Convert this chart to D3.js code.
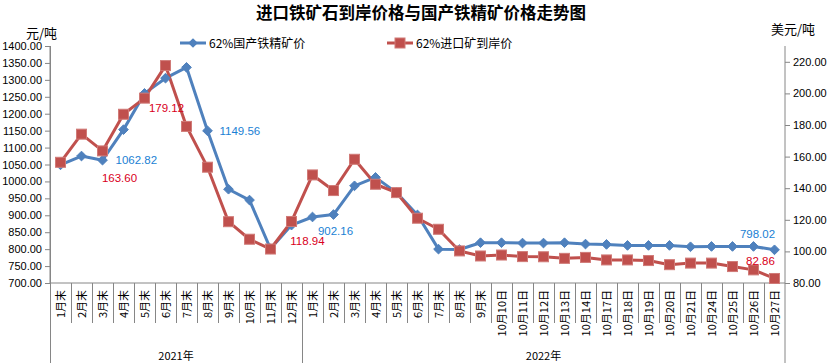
<!DOCTYPE html>
<meta charset="utf-8">
<head>
    <title>进口铁矿石到岸价格与国产铁精矿价格走势图</title>
    <script src="https://cdn.jsdelivr.net/npm/d3@7"></script>
    <style>
        body { margin: 0; background: #fff; }
        svg { display: block; }
        .tick-label { font-family: "Liberation Sans", Arial, sans-serif; font-size: 11px; fill: #000; }
        .cjk { font-family: "Noto Sans CJK SC", "Liberation Sans", sans-serif; }
    </style>
</head>
<body>
<div id="chart"></div>
<script>
    // categories, grouped by year
    var months2021 = ["1月末", "2月末", "3月末", "4月末", "5月末", "6月末", "7月末", "8月末", "9月末", "10月末", "11月末", "12月末"]
    var months2022 = ["1月末", "2月末", "3月末", "4月末", "5月末", "6月末", "7月末", "8月末", "9月末",
        "10月10日", "10月11日", "10月12日", "10月13日", "10月14日", "10月17日", "10月18日",
        "10月19日", "10月20日", "10月21日", "10月24日", "10月25日", "10月26日", "10月27日"]
    var years = ["2021年", "2022年"]

    // 62%国产铁精矿价 (元/吨, left axis)
    var domestic = [1049, 1075, 1062.82, 1153, 1260, 1305, 1337, 1149.56, 977, 945, 801, 871,
        895, 902.16, 987, 1012, 967, 901, 800, 799, 819,
        819, 818, 818, 819, 815, 814, 811, 811, 811, 807, 808, 808, 808, 798.02]

    // 62%进口矿到岸价 (美元/吨, right axis)
    var imported = [156.4, 174.2, 163.60, 186.8, 197, 217.6, 179.12, 153.3, 118.8, 107.7, 101.5, 118.94,
        148.4, 138.5, 158.3, 142.5, 137.2, 121, 114, 100.3, 97.1,
        97.7, 96.7, 96.6, 95.6, 96.2, 94.6, 94.6, 94.2, 91.6, 92.6, 92.6, 90.4, 88.3, 82.86]

    var leftTicks = d3.range(700, 1401, 50)
    var rightTicks = d3.range(80, 221, 20)

    // which points carry a value label, and where it sits relative to the point
    var domesticLabels = [{i: 2, dx: 13, dy: 4, anchor: "start"}, {i: 7, dx: 12, dy: 4, anchor: "start"},
        {i: 13, dx: 2, dy: 20, anchor: "middle"}, {i: 34, dx: -17, dy: -12, anchor: "middle"}]
    var importedLabels = [{i: 2, dx: 17, dy: 31, anchor: "middle"}, {i: 6, dx: -20, dy: -14, anchor: "middle"},
        {i: 11, dx: 16, dy: 24, anchor: "middle"}, {i: 34, dx: -14, dy: -13, anchor: "middle"}]

    var width = 837, height = 363
    var plot = {left: 50, right: 785, top: 46, bottom: 283}

    var categories = months2021.map(function (m) { return "2021|" + m })
        .concat(months2022.map(function (m) { return "2022|" + m }))

    var svg = d3.select("#chart").append("svg")
        .attr("width", width)
        .attr("height", height)

    var x = d3.scaleBand()
        .domain(categories)
        .range([plot.left, plot.right])

    var yLeft = d3.scaleLinear().domain([700, 1400]).range([plot.bottom, plot.top])
    var yRight = d3.scaleLinear().domain([80, 230]).range([plot.bottom, plot.top])

    var cx = function (i) { return x(categories[i]) + x.bandwidth() / 2 }

    // title
    svg.append("text")
        .attr("class", "cjk")
        .attr("x", 421)
        .attr("y", 19)
        .attr("text-anchor", "middle")
        .style("font-size", "16.5px")
        .style("font-weight", "bold")
        .text("进口铁矿石到岸价格与国产铁精矿价格走势图")

    // axis titles
    svg.append("text").attr("class", "cjk")
        .attr("x", 26).attr("y", 38)
        .style("font-size", "13px")
        .text("元/吨")
    svg.append("text").attr("class", "cjk")
        .attr("x", 771).attr("y", 34)
        .style("font-size", "13px")
        .text("美元/吨")

    var axisColor = "#868686"

    // left axis
    var gl = svg.append("g").attr("transform", "translate(" + plot.left + ",0)")
        .call(d3.axisLeft(yLeft).tickValues(leftTicks).tickSize(5).tickPadding(3)
            .tickFormat(d3.format(".2f")))
    gl.select(".domain").attr("stroke", axisColor).attr("d", "M0," + plot.top + "V" + plot.bottom)
    gl.selectAll(".tick line").attr("stroke", axisColor)
    gl.selectAll(".tick text").attr("class", "tick-label").attr("fill", null).style("font-size", null).style("font-family", null)
    gl.attr("font-size", null).attr("font-family", null)

    // right axis
    var gr = svg.append("g").attr("transform", "translate(" + plot.right + ",0)")
        .call(d3.axisRight(yRight).tickValues(rightTicks).tickSize(5).tickPadding(3)
            .tickFormat(d3.format(".2f")))
    gr.select(".domain").attr("stroke", axisColor).attr("d", "M0," + plot.top + "V" + height)
    gr.selectAll(".tick line").attr("stroke", axisColor)
    gr.selectAll(".tick text").attr("class", "tick-label").attr("fill", null)
    gr.attr("font-size", null).attr("font-family", null)

    // category axis: baseline, tick separators, group separators
    var xAxis = svg.append("g")
    xAxis.append("line")
        .attr("x1", plot.left).attr("x2", plot.right)
        .attr("y1", plot.bottom).attr("y2", plot.bottom)
        .attr("stroke", axisColor)

    xAxis.selectAll(".sep")
        .data(categories.slice(1))
        .enter().append("line")
        .attr("x1", function (d) { return Math.round(x(d)) + 0.5 })
        .attr("x2", function (d) { return Math.round(x(d)) + 0.5 })
        .attr("y1", plot.bottom)
        .attr("y2", function (d, i) { return i + 1 === months2021.length ? height : 323 })
        .attr("stroke", axisColor)

    xAxis.append("line")
        .attr("x1", plot.left + 0.5).attr("x2", plot.left + 0.5)
        .attr("y1", plot.top).attr("y2", height)
        .attr("stroke", axisColor)

    xAxis.selectAll(".cat")
        .data(categories)
        .enter().append("text")
        .attr("class", "cjk")
        .attr("transform", function (d) { return "translate(" + (x(d) + x.bandwidth() / 2 + 4) + ",290) rotate(-90)" })
        .attr("text-anchor", "end")
        .style("font-size", "11px")
        .text(function (d) { return d.split("|")[1] })

    // year group labels
    var groups = [
        [categories[0], categories[months2021.length - 1]],
        [categories[months2021.length], categories[categories.length - 1]]
    ]
    xAxis.selectAll(".year")
        .data(years)
        .enter().append("text")
        .attr("class", "cjk")
        .attr("x", function (d, i) { return (x(groups[i][0]) + x(groups[i][1]) + x.bandwidth()) / 2 })
        .attr("y", 360)
        .attr("text-anchor", "middle")
        .style("font-size", "11px")
        .text(function (d) { return d })

    // series
    var blue = "#4F81BD", red = "#C0504D"

    var lineL = d3.line().x(function (d, i) { return cx(i) }).y(function (d) { return yLeft(d) })
    var lineR = d3.line().x(function (d, i) { return cx(i) }).y(function (d) { return yRight(d) })

    svg.append("path")
        .datum(domestic)
        .attr("d", lineL)
        .attr("fill", "none")
        .attr("stroke", blue)
        .attr("stroke-width", 3)
        .attr("stroke-linejoin", "round")

    svg.append("path")
        .datum(imported)
        .attr("d", lineR)
        .attr("fill", "none")
        .attr("stroke", red)
        .attr("stroke-width", 3)
        .attr("stroke-linejoin", "round")

    var diamond = d3.symbol().type(d3.symbolDiamond2).size(60)

    svg.append("g").selectAll("path")
        .data(domestic)
        .enter().append("path")
        .attr("d", diamond)
        .attr("transform", function (d, i) { return "translate(" + cx(i) + "," + yLeft(d) + ")" })
        .attr("fill", blue)
        .attr("stroke", blue)

    svg.append("g").selectAll("rect")
        .data(imported)
        .enter().append("rect")
        .attr("x", function (d, i) { return cx(i) - 5 })
        .attr("y", function (d) { return yRight(d) - 5 })
        .attr("width", 10)
        .attr("height", 10)
        .attr("fill", red)
        .attr("stroke", "#d07a77")
        .attr("stroke-width", 1)

    // data labels
    svg.append("g").selectAll("text")
        .data(domesticLabels)
        .enter().append("text")
        .attr("class", "tick-label")
        .attr("x", function (d) { return cx(d.i) + d.dx })
        .attr("y", function (d) { return yLeft(domestic[d.i]) + d.dy })
        .attr("text-anchor", function (d) { return d.anchor })
        .style("font-size", "11.5px")
        .style("fill", "#1a7fd4")
        .text(function (d) { return domestic[d.i].toFixed(2) })

    svg.append("g").selectAll("text")
        .data(importedLabels)
        .enter().append("text")
        .attr("class", "tick-label")
        .attr("x", function (d) { return cx(d.i) + d.dx })
        .attr("y", function (d) { return yRight(imported[d.i]) + d.dy })
        .attr("text-anchor", function (d) { return d.anchor })
        .style("font-size", "11.5px")
        .style("fill", "#d9001b")
        .text(function (d) { return imported[d.i].toFixed(2) })

    // legend
    var legend = svg.append("g")
    var items = [
        {name: "62%国产铁精矿价", color: blue, x: 180, marker: "diamond"},
        {name: "62%进口矿到岸价", color: red, x: 387, marker: "square"}
    ]
    items.forEach(function (it) {
        var g = legend.append("g").attr("transform", "translate(" + it.x + ",43)")
        g.append("line").attr("x1", 0).attr("x2", 26).attr("stroke", it.color).attr("stroke-width", 3)
        if (it.marker === "diamond") {
            g.append("path").attr("d", diamond).attr("transform", "translate(13,0)").attr("fill", it.color)
        } else {
            g.append("rect").attr("x", 8).attr("y", -5).attr("width", 10).attr("height", 10)
                .attr("fill", it.color).attr("stroke", "#d07a77")
        }
        g.append("text").attr("class", "cjk")
            .attr("x", 29).attr("y", 4.5)
            .style("font-size", "12px")
            .text(it.name)
    })
</script>
</body>
